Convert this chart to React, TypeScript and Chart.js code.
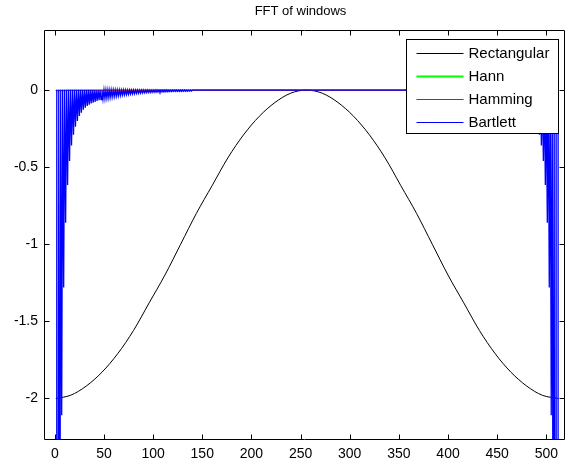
import React, { useEffect, useRef } from 'react';
import { Chart, registerables } from 'chart.js';

Chart.register(...registerables);

const TITLE = 'FFT of windows';
const seriesNames = ['Rectangular', 'Hann', 'Hamming', 'Bartlett'];
const seriesColors = ['#000000', '#00ff00', '#ff0000', '#0000ff'];

const xTicks = [0, 50, 100, 150, 200, 250, 300, 350, 400, 450, 500];
const yTicks = [-2, -1.5, -1, -0.5, 0];
const X_MIN = -11;
const X_MAX = 519;
const Y_MIN = -2.27;
const Y_MAX = 0.39;
const N = 512;

// Rectangular window curve, read at regular sample positions
const rectX = [1, 16, 32, 48, 64, 80, 96, 112, 128, 144, 160, 176, 192, 208, 224, 240, 256,
  272, 288, 304, 320, 336, 352, 368, 384, 400, 416, 432, 448, 464, 480, 496, 512];
const rectY = [-2.0, -1.98, -1.92, -1.83, -1.71, -1.56, -1.38, -1.2, -1.0, -0.8, -0.62, -0.44, -0.29, -0.17, -0.08, -0.02, 0.0,
  -0.02, -0.08, -0.17, -0.29, -0.44, -0.62, -0.8, -1.0, -1.2, -1.38, -1.56, -1.71, -1.83, -1.92, -1.98, -2.0];

// Spike depths at odd offsets 1, 3, 5, ... from each end of the spectrum
const bartlettSpikes = [
  -104, -11.6, -4.2, -2.11, -1.28, -0.86, -0.615, -0.46, -0.36, -0.29,
  -0.238, -0.2, -0.168, -0.146, -0.128, -0.114, -0.103, -0.094, -0.087, -0.081,
  -0.076, -0.071, -0.066, -0.062, -0.058, -0.055, -0.052, -0.049, -0.046, -0.043,
  -0.041, -0.039, -0.036, -0.034, -0.032, -0.031, -0.029, -0.028, -0.026, -0.025,
  -0.024, -0.022, -0.021, -0.02, -0.019, -0.018, -0.017, -0.016, -0.0155, -0.015,
  -0.014, -0.0135, -0.013, -0.0125, -0.012, -0.0115, -0.011, -0.0105, -0.01, -0.0095,
  -0.009, -0.0088, -0.0085, -0.0082, -0.008, -0.0077, -0.0074, -0.0071, -0.0068, -0.0065,
];
const hammingSpikes = [
  -0.004, -0.004, -0.003, -0.003, -0.003, -0.003, -0.002, -0.002, -0.002, -0.002,
  -0.002, -0.002, -0.002, -0.002, -0.0015, -0.0015, -0.0015, -0.0015, -0.0015, -0.0015,
  -0.001, -0.001, -0.001, -0.001, -0.001, -0.001, -0.001, -0.001, -0.001, -0.001,
  -0.001, -0.001, -0.001, -0.001, -0.001, -0.001, -0.001, -0.001, -0.001, -0.001,
  -0.001, -0.001, -0.001, -0.001, -0.001, -0.001, -0.001, -0.001, -0.001, -0.001,
  -0.001, -0.001, -0.001,
];
const hannSpikes = [-0.002, -0.001, -0.001, -0.001, -0.001];

const FONT = "'Liberation Sans', Arial, sans-serif";

function spikeSeries(spikes: number[]) {
  const pts: { x: number; y: number }[] = [];
  for (let x = 1; x <= N; x++) {
    let y = 0;
    if (x % 2 === 1) {
      const k = x <= N / 2 ? x : N - x;
      const idx = (k - 1) / 2;
      if (idx >= 0 && idx < spikes.length) y = spikes[idx];
    }
    pts.push({ x, y });
  }
  return pts;
}

const framePlugin = {
  id: 'matlabFrame',
  afterDatasetsDraw(chart: any) {
    const { ctx, chartArea: a, scales } = chart;
    const L = Math.round(a.left) + 0.5;
    const R = Math.round(a.right) - 0.5;
    const T = Math.round(a.top) + 0.5;
    const B = Math.round(a.bottom) - 0.5;
    ctx.save();
    ctx.strokeStyle = '#000';
    ctx.lineWidth = 1;
    ctx.beginPath();
    ctx.rect(L, T, R - L, B - T);
    const tl = 5;
    xTicks.forEach((v) => {
      const px = Math.round(scales.x.getPixelForValue(v)) + 0.5;
      ctx.moveTo(px, B);
      ctx.lineTo(px, B - tl);
      ctx.moveTo(px, T);
      ctx.lineTo(px, T + tl);
    });
    yTicks.forEach((v) => {
      const py = Math.round(scales.y.getPixelForValue(v)) + 0.5;
      ctx.moveTo(L, py);
      ctx.lineTo(L + tl, py);
      ctx.moveTo(R, py);
      ctx.lineTo(R - tl, py);
    });
    ctx.stroke();
    ctx.restore();
  },
  afterDraw(chart: any) {
    const { ctx, chartArea: a } = chart;
    ctx.save();
    // title
    ctx.fillStyle = '#000';
    ctx.font = `13px ${FONT}`;
    ctx.textAlign = 'center';
    ctx.textBaseline = 'middle';
    ctx.fillText(TITLE, (a.left + a.right) / 2 - 4, 11);
    // legend
    const x0 = Math.round(a.right) - 159 + 0.5;
    const y0 = Math.round(a.top) + 9 + 0.5;
    const w = 152;
    const h = 94;
    ctx.fillStyle = '#fff';
    ctx.fillRect(x0, y0, w, h);
    ctx.strokeStyle = '#000';
    ctx.lineWidth = 1;
    ctx.strokeRect(x0, y0, w, h);
    ctx.font = `15px ${FONT}`;
    ctx.textAlign = 'left';
    seriesNames.forEach((name, i) => {
      const cy = Math.round(y0 + 13 + i * 23) + 0.5;
      ctx.strokeStyle = seriesColors[i];
      ctx.lineWidth = i === 1 ? 2 : 1.2;
      ctx.beginPath();
      ctx.moveTo(x0 + 10, cy);
      ctx.lineTo(x0 + 57, cy);
      ctx.stroke();
      ctx.fillStyle = '#000';
      ctx.fillText(name, x0 + 62, cy);
    });
    ctx.restore();
  },
};

export default function App() {
  const ref = useRef<HTMLCanvasElement | null>(null);
  useEffect(() => {
    document.body.style.margin = '0';
    const canvas = ref.current;
    if (!canvas) return;
    const rectData = rectX.map((x, i) => ({ x, y: rectY[i] }));
    const chart = new Chart(canvas, {
      type: 'line',
      data: {
        datasets: [
          { label: seriesNames[0], data: rectData, borderColor: seriesColors[0], borderWidth: 1, pointRadius: 0, cubicInterpolationMode: 'monotone', order: 4 },
          { label: seriesNames[1], data: spikeSeries(hannSpikes), borderColor: seriesColors[1], borderWidth: 1, pointRadius: 0, order: 3 },
          { label: seriesNames[2], data: spikeSeries(hammingSpikes), borderColor: seriesColors[2], borderWidth: 1.2, pointRadius: 0, order: 2 },
          { label: seriesNames[3], data: spikeSeries(bartlettSpikes), borderColor: seriesColors[3], borderWidth: 1.3, pointRadius: 0, order: 1 },
        ],
      } as any,
      options: {
        responsive: false,
        animation: false,
        layout: { padding: { top: 30, right: 6, left: 0, bottom: 0 } },
        plugins: {
          legend: { display: false },
          title: { display: false },
          tooltip: { enabled: false },
        },
        scales: {
          x: {
            type: 'linear',
            min: X_MIN,
            max: X_MAX,
            afterBuildTicks: (s: any) => { s.ticks = xTicks.map((v) => ({ value: v })); },
            afterFit: (s: any) => { s.height = 26; },
            grid: { display: false, drawTicks: false },
            border: { display: false },
            ticks: {
              color: '#000',
              font: { family: FONT, size: 14 },
              padding: 6,
              maxRotation: 0,
              autoSkip: false,
              callback: (v: any) => String(v),
            },
          },
          y: {
            type: 'linear',
            min: Y_MIN,
            max: Y_MAX,
            afterBuildTicks: (s: any) => { s.ticks = yTicks.map((v) => ({ value: v })); },
            afterFit: (s: any) => { s.width = 44; },
            grid: { display: false, drawTicks: false },
            border: { display: false },
            ticks: {
              color: '#000',
              font: { family: FONT, size: 14 },
              padding: 6,
              autoSkip: false,
              callback: (v: any) => String(v),
            },
          },
        },
      } as any,
      plugins: [framePlugin],
    });
    return () => chart.destroy();
  }, []);
  return (
    <div style={{ width: 571, height: 466 }}>
      <canvas ref={ref} width={571} height={466} style={{ display: 'block' }} />
    </div>
  );
}
